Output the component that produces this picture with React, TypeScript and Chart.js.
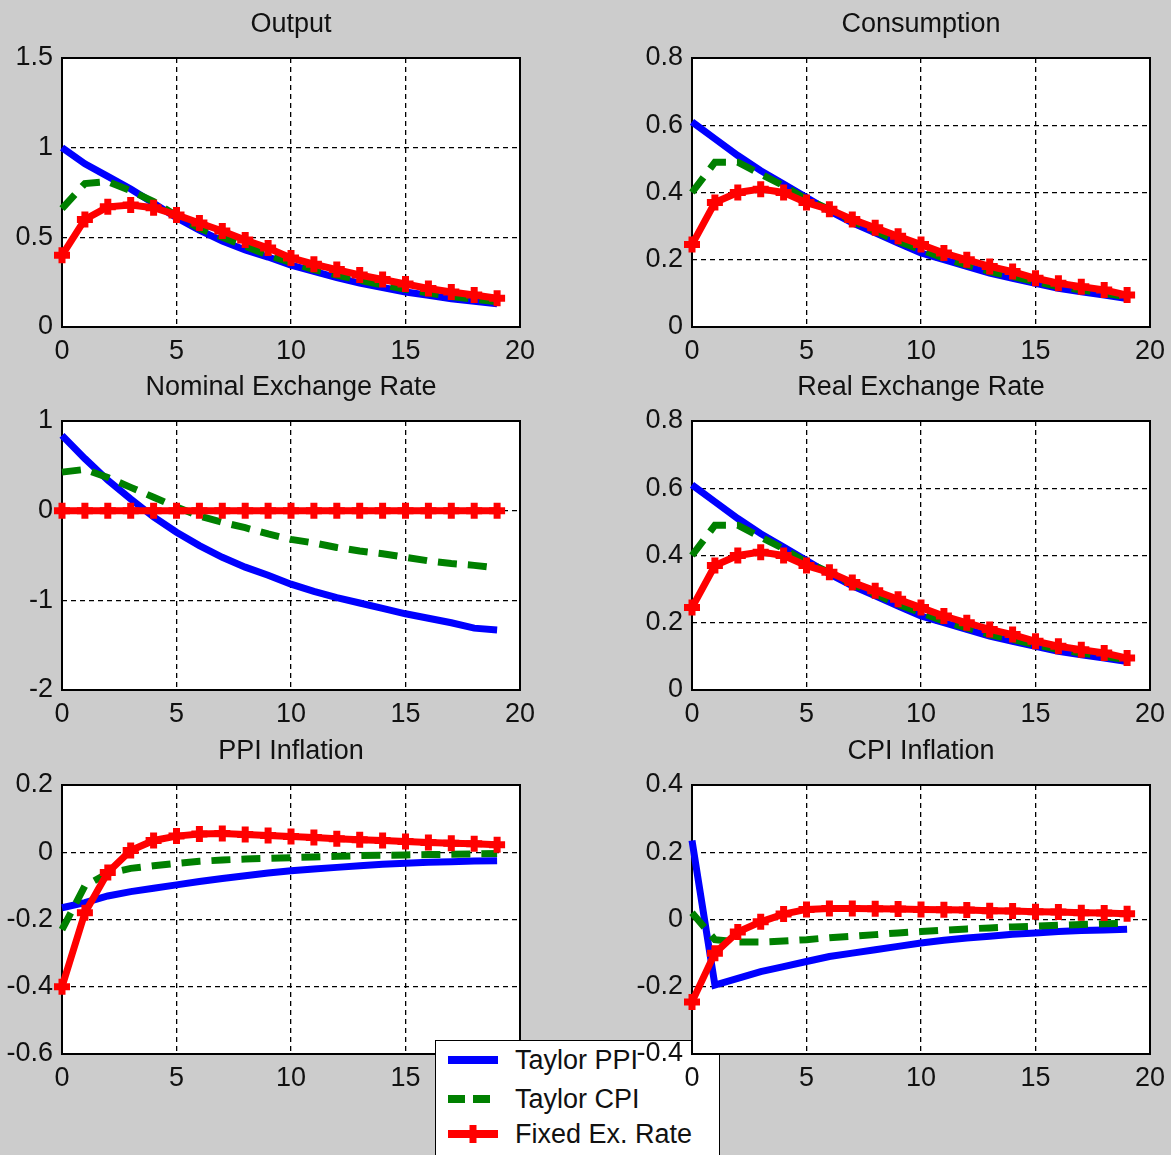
import React, { useEffect, useRef } from 'react';
import { Chart, registerables } from 'chart.js';

Chart.register(...registerables);

// ---------- data ----------
const periods = [0, 1, 2, 3, 4, 5, 6, 7, 8, 9, 10, 11, 12, 13, 14, 15, 16, 17, 18, 19];
const xTicks = [0, 5, 10, 15, 20];

const seriesNames = ['Taylor PPI', 'Taylor CPI', 'Fixed Ex. Rate'];

const outputTaylorPPI = [1.0, 0.91, 0.84, 0.77, 0.69, 0.61, 0.54, 0.48, 0.43, 0.39, 0.345, 0.31, 0.275, 0.245, 0.22, 0.195, 0.177, 0.158, 0.143, 0.13];
const outputTaylorCPI = [0.66, 0.8, 0.81, 0.76, 0.7, 0.62, 0.55, 0.5, 0.45, 0.4, 0.36, 0.32, 0.29, 0.26, 0.235, 0.21, 0.19, 0.17, 0.155, 0.14];
const outputFixed = [0.4, 0.6, 0.67, 0.68, 0.665, 0.625, 0.58, 0.535, 0.485, 0.44, 0.385, 0.35, 0.32, 0.29, 0.265, 0.24, 0.215, 0.195, 0.178, 0.16];
const outputYTicks = [0, 0.5, 1, 1.5];

const consTaylorPPI = [0.61, 0.56, 0.51, 0.465, 0.425, 0.385, 0.345, 0.31, 0.28, 0.25, 0.22, 0.2, 0.18, 0.16, 0.145, 0.13, 0.115, 0.105, 0.095, 0.085];
const consTaylorCPI = [0.4, 0.49, 0.49, 0.455, 0.42, 0.38, 0.35, 0.315, 0.285, 0.255, 0.23, 0.205, 0.185, 0.165, 0.15, 0.135, 0.12, 0.11, 0.1, 0.09];
const consFixed = [0.245, 0.37, 0.4, 0.41, 0.4, 0.37, 0.35, 0.32, 0.295, 0.27, 0.245, 0.22, 0.2, 0.18, 0.165, 0.145, 0.13, 0.12, 0.11, 0.095];
const consYTicks = [0, 0.2, 0.4, 0.6, 0.8];

const nomTaylorPPI = [0.84, 0.58, 0.34, 0.13, -0.07, -0.24, -0.39, -0.52, -0.63, -0.72, -0.82, -0.9, -0.97, -1.03, -1.09, -1.15, -1.2, -1.25, -1.31, -1.33];
const nomTaylorCPI = [0.43, 0.46, 0.37, 0.26, 0.15, 0.04, -0.06, -0.13, -0.19, -0.26, -0.32, -0.36, -0.41, -0.45, -0.48, -0.52, -0.56, -0.59, -0.61, -0.64];
const nomFixed = [0, 0, 0, 0, 0, 0, 0, 0, 0, 0, 0, 0, 0, 0, 0, 0, 0, 0, 0, 0];
const nomYTicks = [-2, -1, 0, 1];

const realTaylorPPI = [0.61, 0.56, 0.51, 0.465, 0.425, 0.385, 0.345, 0.31, 0.28, 0.25, 0.22, 0.2, 0.18, 0.16, 0.145, 0.13, 0.115, 0.105, 0.095, 0.085];
const realTaylorCPI = [0.4, 0.49, 0.49, 0.455, 0.42, 0.38, 0.35, 0.315, 0.285, 0.255, 0.23, 0.205, 0.185, 0.165, 0.15, 0.135, 0.12, 0.11, 0.1, 0.09];
const realFixed = [0.245, 0.37, 0.4, 0.41, 0.4, 0.37, 0.35, 0.32, 0.295, 0.27, 0.245, 0.22, 0.2, 0.18, 0.165, 0.145, 0.13, 0.12, 0.11, 0.095];
const realYTicks = [0, 0.2, 0.4, 0.6, 0.8];

const ppiTaylorPPI = [-0.165, -0.15, -0.13, -0.117, -0.107, -0.097, -0.087, -0.078, -0.07, -0.062, -0.055, -0.05, -0.045, -0.04, -0.036, -0.033, -0.03, -0.028, -0.026, -0.025];
const ppiTaylorCPI = [-0.23, -0.1, -0.063, -0.048, -0.04, -0.033, -0.027, -0.023, -0.02, -0.018, -0.016, -0.014, -0.012, -0.01, -0.009, -0.008, -0.007, -0.006, -0.005, -0.004];
const ppiFixed = [-0.4, -0.18, -0.06, 0.005, 0.035, 0.048, 0.054, 0.056, 0.053, 0.05, 0.047, 0.044, 0.04, 0.037, 0.035, 0.032, 0.029, 0.027, 0.025, 0.022];
const ppiYTicks = [-0.6, -0.4, -0.2, 0, 0.2];

const cpiTaylorPPI = [0.235, -0.195, -0.175, -0.155, -0.14, -0.125, -0.11, -0.1, -0.09, -0.08, -0.07, -0.062, -0.055, -0.05, -0.044, -0.04, -0.036, -0.033, -0.031, -0.029];
const cpiTaylorCPI = [0.02, -0.06, -0.067, -0.067, -0.064, -0.06, -0.054, -0.05, -0.045, -0.04, -0.036, -0.032, -0.028, -0.025, -0.022, -0.02, -0.017, -0.015, -0.013, -0.011];
const cpiFixed = [-0.245, -0.1, -0.037, -0.007, 0.016, 0.03, 0.033, 0.033, 0.032, 0.031, 0.03, 0.029, 0.028, 0.026, 0.025, 0.023, 0.022, 0.02, 0.019, 0.017];
const cpiYTicks = [-0.4, -0.2, 0, 0.2, 0.4];

// ---------- styling / layout ----------
const FONT = "'Liberation Sans', Arial, Helvetica, sans-serif";
const FONT_SIZE = 27;
const TEXT_COLOR = '#111111';
const BG = '#cccccc';
const BLUE = '#0000ff';
const GREEN = '#008000';
const RED = '#ff0000';

const Y_AXIS_W = 70;
const TITLE_H = 58;
const X_AXIS_H = 45;
const RIGHT_PAD = 40;
const PLOT_W = 458;
const PLOT_H = 269;

type PanelDef = {
  title: string;
  plotLeft: number;
  plotTop: number;
  yTicks: number[];
  ppi: number[];
  cpi: number[];
  fixed: number[];
};

const panelsBefore: PanelDef[] = [
  { title: 'Output', plotLeft: 62, plotTop: 58, yTicks: outputYTicks, ppi: outputTaylorPPI, cpi: outputTaylorCPI, fixed: outputFixed },
  { title: 'Consumption', plotLeft: 692, plotTop: 58, yTicks: consYTicks, ppi: consTaylorPPI, cpi: consTaylorCPI, fixed: consFixed },
  { title: 'Nominal Exchange Rate', plotLeft: 62, plotTop: 421, yTicks: nomYTicks, ppi: nomTaylorPPI, cpi: nomTaylorCPI, fixed: nomFixed },
  { title: 'Real Exchange Rate', plotLeft: 692, plotTop: 421, yTicks: realYTicks, ppi: realTaylorPPI, cpi: realTaylorCPI, fixed: realFixed },
  { title: 'PPI Inflation', plotLeft: 62, plotTop: 785, yTicks: ppiYTicks, ppi: ppiTaylorPPI, cpi: ppiTaylorCPI, fixed: ppiFixed },
];
const panelAfter: PanelDef = { title: 'CPI Inflation', plotLeft: 692, plotTop: 785, yTicks: cpiYTicks, ppi: cpiTaylorPPI, cpi: cpiTaylorCPI, fixed: cpiFixed };

const fmt = (v: number) => String(Math.round(v * 100) / 100);

const plotBoxPlugin = {
  id: 'plotBox',
  beforeDraw(chart: any) {
    const { ctx, chartArea: a } = chart;
    ctx.save();
    ctx.fillStyle = '#ffffff';
    ctx.fillRect(a.left, a.top, a.right - a.left, a.bottom - a.top);
    ctx.restore();
  },
  beforeDatasetsDraw(chart: any) {
    const { ctx, chartArea: a } = chart;
    ctx.save();
    ctx.strokeStyle = '#000000';
    ctx.lineWidth = 2;
    ctx.strokeRect(a.left, a.top, a.right - a.left, a.bottom - a.top);
    ctx.restore();
  },
  afterDraw(chart: any) {
    const { ctx, chartArea: a } = chart;
    const text = chart.options.plugins.plotBox?.title;
    if (!text) return;
    ctx.save();
    ctx.fillStyle = TEXT_COLOR;
    ctx.font = `${FONT_SIZE}px ${FONT}`;
    ctx.textAlign = 'center';
    ctx.textBaseline = 'middle';
    ctx.fillText(text, (a.left + a.right) / 2, a.top - 33);
    ctx.restore();
  },
};

function Panel({ def }: { def: PanelDef }) {
  const ref = useRef<HTMLCanvasElement | null>(null);
  useEffect(() => {
    if (!ref.current) return;
    const yMin = def.yTicks[0];
    const yMax = def.yTicks[def.yTicks.length - 1];
    const xMin = xTicks[0];
    const xMax = xTicks[xTicks.length - 1];
    const toPts = (arr: number[]) => periods.map((p, i) => ({ x: p, y: arr[i] }));
    const gridColor = (lo: number, hi: number) => (ctx: any) => {
      const v = ctx.tick ? ctx.tick.value : NaN;
      if (Math.abs(v - lo) < 1e-9 || Math.abs(v - hi) < 1e-9) return 'rgba(0,0,0,0)';
      return '#000000';
    };
    const chart = new Chart(ref.current, {
      type: 'line',
      data: {
        datasets: [
          {
            label: seriesNames[0],
            data: toPts(def.ppi),
            borderColor: BLUE,
            backgroundColor: BLUE,
            borderWidth: 7,
            pointRadius: 0,
            tension: 0,
            order: 3,
          },
          {
            label: seriesNames[1],
            data: toPts(def.cpi),
            borderColor: GREEN,
            backgroundColor: GREEN,
            borderWidth: 7,
            borderDash: [19, 11],
            pointRadius: 0,
            tension: 0,
            order: 2,
          },
          {
            label: seriesNames[2],
            data: toPts(def.fixed),
            borderColor: RED,
            backgroundColor: RED,
            borderWidth: 7,
            pointStyle: 'cross',
            pointRadius: 8,
            pointBorderWidth: 7,
            pointBorderColor: RED,
            pointBackgroundColor: RED,
            tension: 0,
            order: 1,
          },
        ],
      },
      options: {
        animation: false,
        responsive: false,
        maintainAspectRatio: false,
        devicePixelRatio: 1,
        layout: { padding: { left: 0, top: TITLE_H, right: RIGHT_PAD, bottom: 0 } },
        clip: false as any,
        events: [],
        plugins: {
          legend: { display: false },
          tooltip: { enabled: false },
          title: { display: false },
          plotBox: { title: def.title },
        } as any,
        scales: {
          x: {
            type: 'linear',
            min: xMin,
            max: xMax,
            afterBuildTicks: (scale: any) => {
              scale.ticks = xTicks.map((v) => ({ value: v }));
            },
            afterFit: (scale: any) => {
              scale.height = X_AXIS_H;
            },
            ticks: {
              color: TEXT_COLOR,
              font: { family: FONT, size: FONT_SIZE },
              padding: 8,
              maxRotation: 0,
              autoSkip: false,
              callback: (v: any) => fmt(Number(v)),
            },
            grid: { color: gridColor(xMin, xMax), lineWidth: 1.3, drawTicks: false },
            border: { display: false, dash: [5, 4] },
          },
          y: {
            type: 'linear',
            min: yMin,
            max: yMax,
            afterBuildTicks: (scale: any) => {
              scale.ticks = def.yTicks.map((v) => ({ value: v }));
            },
            afterFit: (scale: any) => {
              scale.width = Y_AXIS_W;
            },
            ticks: {
              color: TEXT_COLOR,
              font: { family: FONT, size: FONT_SIZE },
              padding: 9,
              autoSkip: false,
              callback: (v: any) => fmt(Number(v)),
            },
            grid: { color: gridColor(yMin, yMax), lineWidth: 1.3, drawTicks: false },
            border: { display: false, dash: [5, 4] },
          },
        },
      },
      plugins: [plotBoxPlugin],
    } as any);
    return () => chart.destroy();
  }, [def]);

  const w = Y_AXIS_W + PLOT_W + RIGHT_PAD;
  const h = TITLE_H + PLOT_H + X_AXIS_H;
  return (
    <canvas
      ref={ref}
      width={w}
      height={h}
      style={{
        position: 'absolute',
        left: def.plotLeft - Y_AXIS_W,
        top: def.plotTop - TITLE_H,
        width: w,
        height: h,
      }}
    />
  );
}

function Legend() {
  const rows = [
    { label: seriesNames[0], color: BLUE, dash: undefined as string | undefined, marker: false, cy: 19 },
    { label: seriesNames[1], color: GREEN, dash: '17 8', marker: false, cy: 58 },
    { label: seriesNames[2], color: RED, dash: undefined, marker: true, cy: 93 },
  ];
  return (
    <div
      style={{
        position: 'absolute',
        left: 435,
        top: 1040,
        width: 285,
        height: 130,
        background: '#ffffff',
        border: '1.5px solid #000',
        boxSizing: 'border-box',
      }}
    >
      {rows.map((r) => (
        <React.Fragment key={r.label}>
          <svg
            width={60}
            height={24}
            style={{ position: 'absolute', left: 10, top: r.cy - 12 }}
          >
            <line
              x1={2}
              x2={52}
              y1={12}
              y2={12}
              stroke={r.color}
              strokeWidth={8}
              strokeDasharray={r.dash}
            />
            {r.marker ? (
              <line x1={27} x2={27} y1={3} y2={21} stroke={r.color} strokeWidth={7} />
            ) : null}
          </svg>
          <div
            style={{
              position: 'absolute',
              left: 79,
              top: r.cy - 16,
              height: 32,
              lineHeight: '32px',
              fontFamily: FONT,
              fontSize: FONT_SIZE,
              color: TEXT_COLOR,
              whiteSpace: 'nowrap',
            }}
          >
            {r.label}
          </div>
        </React.Fragment>
      ))}
    </div>
  );
}

export default function App() {
  useEffect(() => {
    document.body.style.margin = '0';
    document.body.style.background = BG;
  }, []);
  return (
    <div
      style={{
        position: 'relative',
        width: 1171,
        height: 1155,
        overflow: 'hidden',
        background: BG,
      }}
    >
      {panelsBefore.map((p) => (
        <Panel key={p.title} def={p} />
      ))}
      <Legend />
      <Panel def={panelAfter} />
    </div>
  );
}
